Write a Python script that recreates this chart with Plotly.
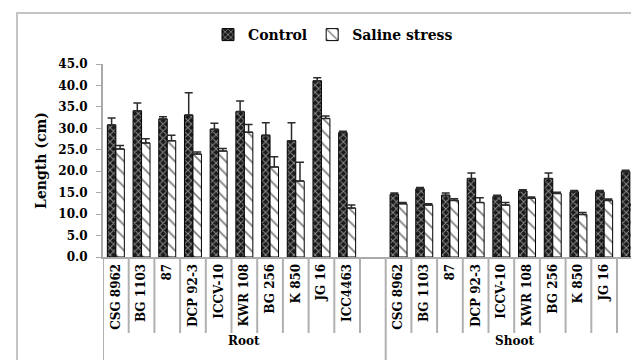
import plotly.graph_objects as go

genotypes = ["CSG 8962", "BG 1103", "87", "DCP 92-3", "ICCV-10", "KWR 108", "BG 256", "K 850", "JG 16", "ICC4463"]
groups = ["Root", "Shoot"]

root_control = [30.8, 34.1, 32.2, 33.1, 29.8, 33.9, 28.4, 27.1, 41.1, 29.0]
root_control_err = [1.6, 1.8, 0.5, 5.2, 1.4, 2.5, 2.9, 4.2, 0.7, 0.3]
root_saline = [25.2, 26.6, 27.1, 24.0, 24.7, 29.1, 21.0, 17.7, 32.3, 11.4]
root_saline_err = [0.8, 1.0, 1.3, 0.5, 0.6, 1.8, 2.4, 4.4, 0.6, 0.7]

shoot_control = [14.6, 15.9, 14.4, 18.3, 14.1, 15.4, 18.3, 15.2, 15.2, 19.9]
shoot_control_err = [0.3, 0.3, 0.5, 1.3, 0.3, 0.3, 1.3, 0.3, 0.3, 0.3]
shoot_saline = [12.4, 12.1, 13.2, 12.7, 12.1, 13.7, 14.8, 9.9, 13.2, 12.0]
shoot_saline_err = [0.3, 0.3, 0.4, 1.1, 0.6, 0.3, 0.3, 0.5, 0.3, 0.3]

n = len(genotypes)
root_pos = list(range(n))
shoot_pos = [n + 1 + i for i in range(n)]
xpos = root_pos + shoot_pos
labels = genotypes + genotypes

control = root_control + shoot_control
control_err = root_control_err + shoot_control_err
saline = root_saline + shoot_saline
saline_err = root_saline_err + shoot_saline_err

SERIF = "DejaVu Serif"
W, H = 631, 360
L, R, T, B = 103, 0, 64, 103
pw, ph = W - L - R, H - T - B

def px2paper_x(px):
    return (px - L) / pw

def px2paper_y(py):
    return (H - B - py) / ph

fig = go.Figure()
fig.add_trace(go.Bar(
    name="Control", x=xpos, y=control,
    marker=dict(color="#1a1a1a", line=dict(color="black", width=1),
                pattern=dict(shape="x", fgcolor="white", bgcolor="#1a1a1a", size=5, solidity=0.35)),
    error_y=dict(type="data", symmetric=False, array=control_err, arrayminus=[0] * len(control_err),
                 color="#2a2a2a", thickness=1.5, width=4),
))
fig.add_trace(go.Bar(
    name="Saline stress", x=xpos, y=saline,
    marker=dict(color="white", line=dict(color="black", width=1),
                pattern=dict(shape="\\", fgcolor="black", bgcolor="white", size=9, solidity=0.2)),
    error_y=dict(type="data", symmetric=False, array=saline_err, arrayminus=[0] * len(saline_err),
                 color="#2a2a2a", thickness=1.5, width=4),
))

shapes = []
for i in range(0, 2 * n + 2):
    xv = i - 0.5
    is_group = (i == 0) or (i == n + 1)
    shapes.append(dict(type="line", xref="x", yref="paper", x0=xv, x1=xv,
                       y0=0, y1=px2paper_y(H + 5 if is_group else 333),
                       line=dict(color="#b0b0b0", width=2)))
# outer chart border
shapes.append(dict(type="rect", xref="paper", yref="paper",
                   x0=px2paper_x(17), x1=px2paper_x(W + 20),
                   y0=px2paper_y(H + 20), y1=px2paper_y(13),
                   line=dict(color="#c4c4c4", width=2), fillcolor="rgba(0,0,0,0)"))

annotations = [
    dict(text="<b>Root</b>", x=n / 2, xref="x", y=px2paper_y(350), yref="paper",
         showarrow=False, font=dict(family=SERIF, size=12, color="black")),
    dict(text="<b>Shoot</b>", x=(shoot_pos[0] + shoot_pos[-1]) / 2, xref="x", y=px2paper_y(350), yref="paper",
         showarrow=False, font=dict(family=SERIF, size=12, color="black")),
]

ytv = [0, 5, 10, 15, 20, 25, 30, 35, 40, 45]

fig.update_layout(
    width=W, height=H,
    margin=dict(l=L, r=R, t=T, b=B),
    paper_bgcolor="white", plot_bgcolor="white",
    barmode="group", bargap=0.34, bargroupgap=0,
    showlegend=True,
    legend=dict(orientation="h", x=px2paper_x(208), xanchor="left", y=px2paper_y(35), yanchor="middle",
                font=dict(family=SERIF, size=14, color="black", weight="bold"),
                itemwidth=30, bgcolor="rgba(0,0,0,0)"),
    shapes=shapes,
    annotations=annotations,
    xaxis=dict(range=[-0.5, -0.5 + pw / 25.7], tickmode="array", tickvals=xpos, ticktext=labels,
               tickangle=-90, showline=True, linecolor="#a8a8a8", linewidth=2, ticks="",
               showgrid=False, zeroline=False,
               tickfont=dict(family=SERIF, size=12, color="black", weight="bold")),
    yaxis=dict(range=[0, 45], tickmode="array", tickvals=ytv,
               ticktext=["%.1f" % v for v in ytv],
               showline=True, linecolor="#a8a8a8", linewidth=2, ticks="outside", ticklen=5,
               tickcolor="#a8a8a8", showgrid=False, zeroline=False, ticklabelstandoff=6,
               tickfont=dict(family=SERIF, size=12, color="black", weight="bold"),
               title=dict(text="Length (cm)", standoff=8,
                          font=dict(family=SERIF, size=14, color="black", weight="bold"))),
)

fig.write_html("out.html")
